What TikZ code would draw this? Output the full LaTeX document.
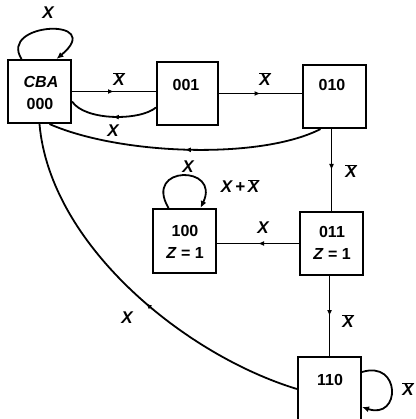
\documentclass[tikz,border=0pt]{standalone}
\usepackage{fontspec}
\setmainfont{Liberation Sans}
\usetikzlibrary{arrows.meta,decorations.markings}
\newcommand\xbar{$\overline{\mbox{\bfseries\itshape X}}$}
\begin{document}
\begin{tikzpicture}[x=1pt,y=-1pt,
 box/.style={draw,line width=2.1pt,minimum width=63pt,minimum height=63pt,inner sep=0pt},
 txt/.style={font=\fontsize{16}{18}\selectfont\bfseries,inner sep=0pt},
 lbl/.style={font=\fontsize{17}{19}\selectfont\bfseries\itshape,inner sep=0pt},
 edge/.style={line width=1.8pt},
 mid/.style={postaction={decorate},decoration={markings,mark=at position #1 with {\arrow{Latex[length=6pt,width=5pt]}}}},
 mid/.default=0.5,
 endarrow/.style={-{Latex[length=7pt,width=6pt]}}
]
\useasboundingbox (0,0) rectangle (415,419);
% states
\node[box] (s000) at (39.5,91.5) {};
\node[box,minimum width=61pt] (s001) at (187.5,93.5) {};
\node[box] (s010) at (334.5,96.5) {};
\node[box,minimum height=64pt] (s100) at (184.5,241) {};
\node[box] (s011) at (331.5,243.5) {};
\node[box,minimum height=64pt] (s110) at (329.5,389) {};
% texts in states
\node[txt,font=\fontsize{16}{18}\selectfont\bfseries\itshape] (tcba) at (41,82) {CBA};
\node[txt] (t000) at (40,104) {000};
\node[txt] (t001) at (186,85) {001};
\node[txt] (t010) at (332,85) {010};
\node[txt] (t100) at (185,231) {100};
\node[txt] (z100) at (185,253) {\textit{Z} = 1};
\node[txt] (t011) at (332,232) {011};
\node[txt] (z011) at (332,254) {\textit{Z} = 1};
\node[txt] (t110) at (330,380) {110};
% transitions
\draw[edge,mid] (s000.east) -- (s000.east -| s001.west);
\draw[edge,mid] ([yshift=-14pt]s001.west) .. controls (140,121) and (85,121) .. ([yshift=-10pt]s000.east);
\draw[edge,mid] (s001.east) -- (s001.east -| s010.west);
\draw[edge,mid] ([xshift=-14pt]s010.south) .. controls (260,160) and (120,155) .. ([xshift=10pt]s000.south);
\draw[edge,mid] (s010.south -| s011.north) -- (s011.north);
\draw[edge,mid] (s011.west) -- (s011.west -| s100.east);
\draw[edge,endarrow] ([xshift=-16pt]s100.north) .. controls (143,165) and (221,165) .. ([xshift=16pt]s100.north);
\draw[edge,mid] (s011.south -| s110.north) -- (s110.north);
\draw[edge,endarrow] ([yshift=17pt]s110.east) .. controls (401,360) and (401,420) .. ([yshift=-18pt]s110.east);
\draw[edge,mid=0.45] (s110.west) .. controls (185,355) and (50,245) .. (s000.south);
\draw[edge,endarrow] ([xshift=-18pt]s000.north) .. controls (-2,22) and (107,17) .. ([xshift=17pt]s000.north);
% labels
\node[lbl] (l1) at (48,13) {X};
\node[lbl] (l2) at (119,79) {\xbar};
\node[lbl] (l3) at (113,131) {X};
\node[lbl] (l4) at (265,79) {\xbar};
\node[lbl] (l5) at (188,167) {X};
\node[lbl] (l6) at (240,186) {X\,+\,\xbar};
\node[lbl] (l7) at (351,171) {\xbar};
\node[lbl] (l8) at (263,228) {X};
\node[lbl] (l9) at (348,321) {\xbar};
\node[lbl] (l10) at (127,318) {X};
\node[lbl] (l11) at (408,389) {\xbar};
\end{tikzpicture}
\end{document}
